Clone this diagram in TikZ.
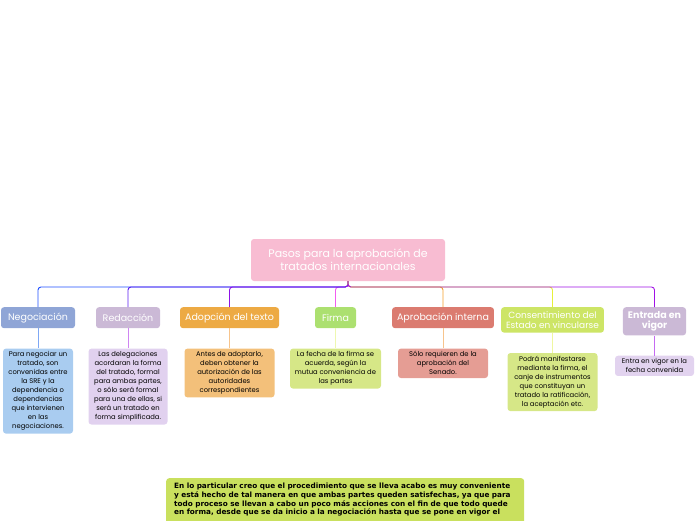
\documentclass[tikz,border=0pt]{standalone}
\usepackage{fontspec}
\setmainfont{Poppins}
\newfontfamily\opinionfont{DejaVu Sans}
\usepackage{xcolor}
\usetikzlibrary{positioning}

\definecolor{rootpink}{HTML}{F8BCD2}
\definecolor{negfill}{HTML}{8FA5D6}
\definecolor{redfill}{HTML}{CBB9D6}
\definecolor{adofill}{HTML}{EDAA44}
\definecolor{firfill}{HTML}{ACE070}
\definecolor{aprfill}{HTML}{DB7B70}
\definecolor{conxfill}{HTML}{CDE566}
\definecolor{entfill}{HTML}{CBB9D6}
\definecolor{negnote}{HTML}{A9CCF0}
\definecolor{rednote}{HTML}{E1D1EF}
\definecolor{adonote}{HTML}{F3C07A}
\definecolor{firnote}{HTML}{D6E787}
\definecolor{aprnote}{HTML}{E59D94}
\definecolor{connote}{HTML}{D6E787}
\definecolor{entnote}{HTML}{E2D3EF}
\definecolor{opinfill}{HTML}{C9E05E}
\definecolor{negline}{HTML}{1F4FFF}
\definecolor{redline}{HTML}{5A1CF0}
\definecolor{adoline}{HTML}{8E12E6}
\definecolor{firline}{HTML}{F25CF0}
\definecolor{aprline}{HTML}{F5A02A}
\definecolor{conline}{HTML}{E6F03A}
\definecolor{entline}{HTML}{A010E6}
\definecolor{negleaf}{HTML}{7FA8F5}
\definecolor{redleaf}{HTML}{CF85F2}
\definecolor{adoleaf}{HTML}{F7C48C}
\definecolor{firleaf}{HTML}{EEF8B0}
\definecolor{aprleaf}{HTML}{F7C48C}
\definecolor{conleaf}{HTML}{EFF7A0}
\definecolor{entleaf}{HTML}{C56AF2}

\begin{document}
\begin{tikzpicture}[
    x=1pt, y=-1pt,
    root/.style={rounded corners=3pt, fill=rootpink, text=white, align=center,
                 font=\fontsize{11}{13}\selectfont, minimum width=194pt, minimum height=42pt},
    stage/.style={rounded corners=3pt, text=white, align=center, anchor=north,
                  font=\fontsize{9.5}{10.5}\selectfont, minimum height=21pt,
                  inner xsep=5pt, inner ysep=4pt},
    note/.style={rounded corners=3pt, align=center, text=black,
                 font=\fontsize{6.8}{9}\selectfont, inner xsep=2pt, inner ysep=3pt},
    link/.style={line width=0.9pt, rounded corners=3pt},
    leaf/.style={line width=0.9pt},
    node distance=20pt
  ]
  \clip (0,0) rectangle (696,520);
  \useasboundingbox (0,0) rectangle (696,520);

  % root and stages
  \node[root] (pasos) at (348,260) {Pasos para la aprobación de\\tratados internacionales};
  \coordinate (bus) at (0,287);

  \node[stage, fill=negfill, minimum width=74pt] (neg) at (38,307) {Negociación};
  \node[stage, fill=redfill, minimum width=64pt] (red) at (128,307) {Redacción};
  \node[stage, fill=adofill, minimum width=99pt] (ado) at (229.5,307) {Adopción del texto};
  \node[stage, fill=firfill, minimum width=41pt] (fir) at (335.5,307) {Firma};
  \node[stage, fill=aprfill, minimum width=100pt] (apr) at (443,307) {Aprobación interna};
  \node[stage, fill=conxfill, minimum width=101pt, font=\fontsize{9}{10.5}\selectfont] (con) at (552.5,307) {Consentimiento del\\Estado en vincularse};
  \node[stage, fill=entfill, minimum width=63pt, font=\fontsize{9.5}{10.5}\selectfont\bfseries] (ent) at (654.5,307) {Entrada en\\vigor};

  % notes (below each stage)
  \node[note, fill=negnote, minimum width=70pt, below=of neg] (negtxt) {Para negociar un\\tratado, son\\convenidas entre\\la SRE y la\\dependencia o\\dependencias\\que intervienen\\en las\\negociaciones.};
  \node[note, fill=rednote, minimum width=79pt, below=of red] (redtxt) {Las delegaciones\\acordaran la forma\\del tratado,  formal\\para ambas partes,\\o sólo será formal\\para una de ellas, si\\será un tratado en\\forma simplificada.};
  \node[note, fill=adonote, minimum width=90pt, below=of ado] (adotxt) {Antes de adoptarlo,\\deben obtener la\\autorización de las\\autoridades\\correspondientes};
  \node[note, fill=firnote, minimum width=91pt, below=of fir] (firtxt) {La fecha de la firma se\\acuerda, según la\\mutua conveniencia de\\las partes};
  \node[note, fill=aprnote, minimum width=90pt, below=of apr] (aprtxt) {Sólo requieren de la\\aprobación del\\Senado.};
  \node[note, fill=connote, minimum width=90pt, below=of con] (contxt) {Podrá manifestarse\\mediante la firma, el\\canje de instrumentos\\que constituyan un\\tratado la ratificación,\\la aceptación etc.};
  \node[note, fill=entnote, minimum width=79pt, below=of ent] (enttxt) {Entra en vigor en la\\fecha convenida};

  % opinion (runs past the lower edge)
  \node[anchor=north west, fill=opinfill, rounded corners=3pt, align=left,
        text width=350pt, inner xsep=4pt, inner ysep=5pt,
        font=\opinionfont\fontsize{7.3}{8.7}\selectfont\bfseries] (opinion) at (166,478)
    {\hspace*{4pt}En lo particular creo que el procedimiento que se lleva acabo es muy conveniente\\
     \hspace*{4pt}y está hecho de tal manera en que ambas partes queden satisfechas, ya que para\\
     \hspace*{4pt}todo proceso se llevan a cabo un poco más acciones con el fin de que todo quede\\
     \hspace*{4pt}en forma, desde que se da inicio a la negociación hasta que se pone en vigor el\\
     \mbox{}};

  % arcs
  \draw[link, draw=firline] (pasos.south) -- (pasos.south |- bus) -| (fir.north);
  \draw[link, draw=negline] (pasos.south) -- (pasos.south |- bus) -| (neg.north);
  \draw[link, draw=redline] (pasos.south) -- (pasos.south |- bus) -| (red.north);
  \draw[link, draw=adoline] (pasos.south) -- (pasos.south |- bus) -| (ado.north);
  \draw[link, draw=aprline] (pasos.south) -- (pasos.south |- bus) -| (apr.north);
  \draw[link, draw=conline] (pasos.south) -- (pasos.south |- bus) -| (con.north);
  \draw[link, draw=entline] (pasos.south) -- (pasos.south |- bus) -| (ent.north);

  \draw[leaf, draw=negleaf] (neg) -- (negtxt);
  \draw[leaf, draw=redleaf] (red) -- (redtxt);
  \draw[leaf, draw=adoleaf] (ado) -- (adotxt);
  \draw[leaf, draw=firleaf] (fir) -- (firtxt);
  \draw[leaf, draw=aprleaf] (apr) -- (aprtxt);
  \draw[leaf, draw=conleaf] (con) -- (contxt);
  \draw[leaf, draw=entleaf] (ent) -- (enttxt);
\end{tikzpicture}
\end{document}
